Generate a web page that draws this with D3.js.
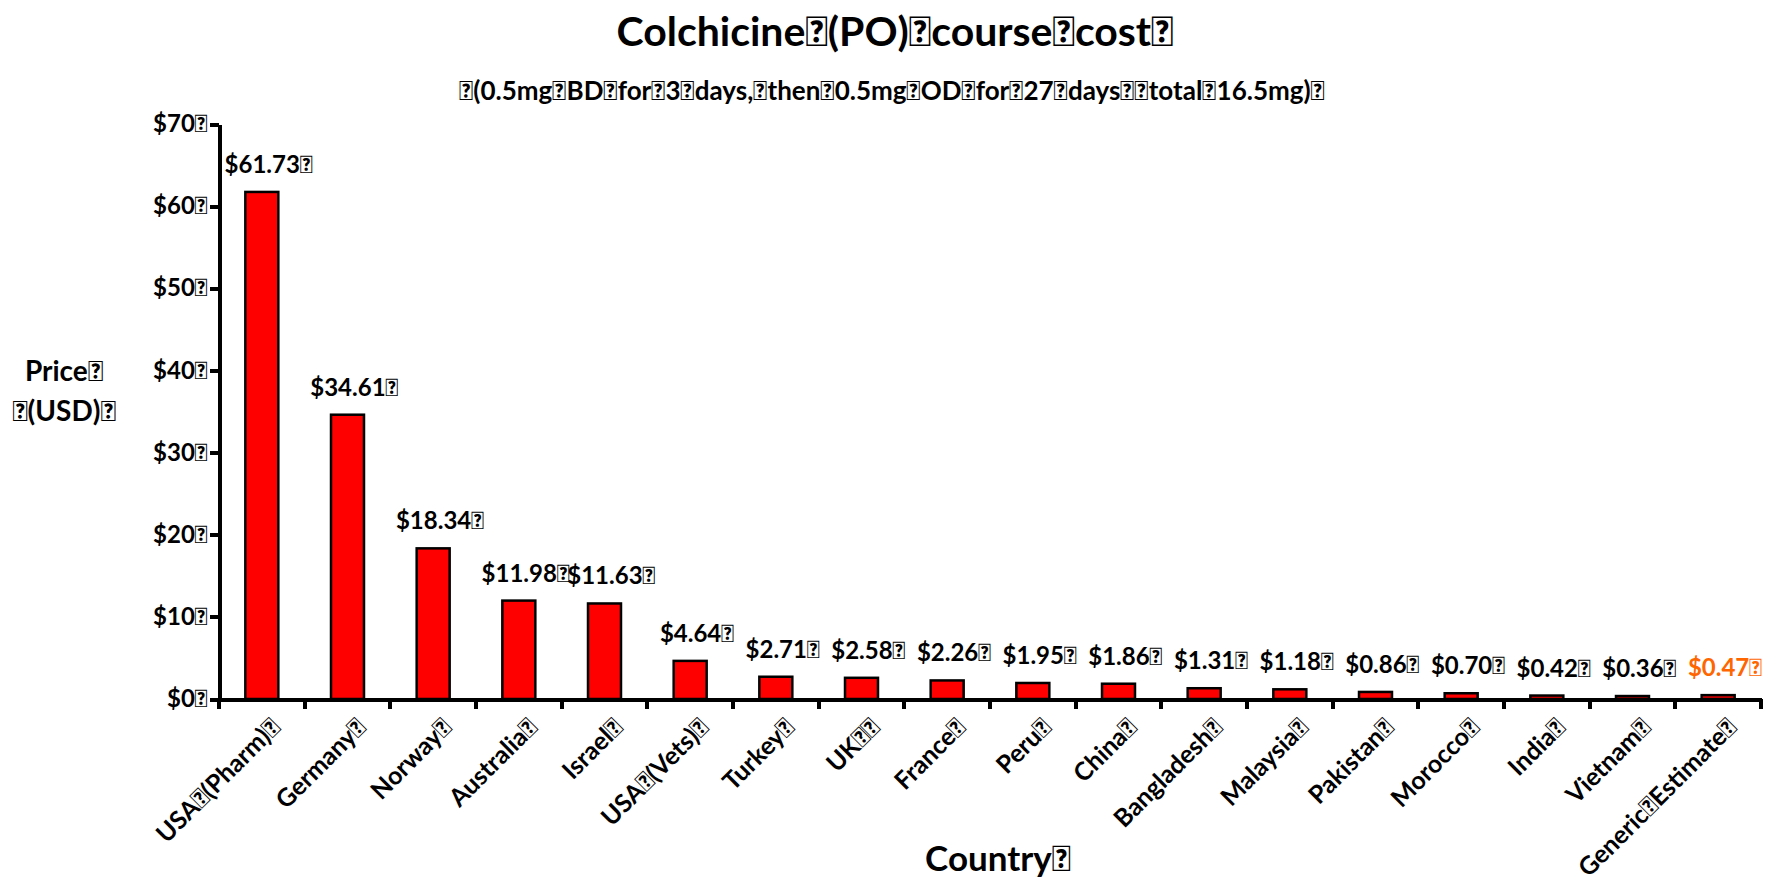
<!DOCTYPE html>
<html lang="en">
<head>
    <meta charset="UTF-8">
    <title>Colchicine (PO) course cost</title>
    <script src="https://d3js.org/d3.v7.min.js"></script>
    <style>
        body { margin: 0; background: #fff; }
        svg, .axis { font-family: Lato, "Open Sans", sans-serif; font-weight: bold; }
        .axis path, .axis line { stroke: #000; stroke-width: 4; shape-rendering: crispEdges; }
        .axis text { font-size: 24px; font-weight: bold; fill: #000; }
        .bar { fill: #ff0000; stroke: #000; stroke-width: 2.5; }
    </style>
</head>
<body>
    <svg width="1775" height="883"></svg>
    <script>
        // box character kept from the source text
        const BOX = "\uF020";

        const countries = ["USA" + BOX + "(Pharm)" + BOX, "Germany" + BOX, "Norway" + BOX, "Australia" + BOX,
            "Israel" + BOX, "USA" + BOX + "(Vets)" + BOX, "Turkey" + BOX, "UK" + BOX + BOX, "France" + BOX,
            "Peru" + BOX, "China" + BOX, "Bangladesh" + BOX, "Malaysia" + BOX, "Pakistan" + BOX,
            "Morocco" + BOX, "India" + BOX, "Vietnam" + BOX, "Generic" + BOX + "Estimate" + BOX];
        const prices = [61.73, 34.61, 18.34, 11.98, 11.63, 4.64, 2.71, 2.58, 2.26, 1.95, 1.86, 1.31, 1.18, 0.86, 0.70, 0.42, 0.36, 0.47];
        const yTicks = [0, 10, 20, 30, 40, 50, 60, 70];

        const svg = d3.select("svg");
        const plotLeft = 219, plotRight = 1761, plotTop = 124, plotBottom = 699;

        const x = d3.scaleBand().domain(countries).range([plotLeft, plotRight]).padding(0);
        const y = d3.scaleLinear().domain([0, 70]).range([plotBottom, plotTop]);
        const barW = x.bandwidth() * 0.385;

        // 標題
        svg.append("text")
            .attr("x", 895).attr("y", 46)
            .attr("text-anchor", "middle")
            .style("font-size", "41px")
            .text("Colchicine" + BOX + "(PO)" + BOX + "course" + BOX + "cost" + BOX);
        svg.append("text")
            .attr("x", 892).attr("y", 100)
            .attr("text-anchor", "middle")
            .style("font-size", "26px")
            .text(BOX + "(0.5mg" + BOX + "BD" + BOX + "for" + BOX + "3" + BOX + "days," + BOX + "then" + BOX + "0.5mg" + BOX + "OD" + BOX + "for" + BOX + "27" + BOX + "days" + BOX + BOX + "total" + BOX + "16.5mg)" + BOX);

        // bars
        svg.append("g")
            .selectAll("rect")
            .data(prices)
            .enter().append("rect")
            .attr("class", "bar")
            .attr("x", (d, i) => x(countries[i]) + (x.bandwidth() - barW) / 2)
            .attr("y", d => y(d))
            .attr("width", barW)
            .attr("height", d => plotBottom - y(d));

        // value labels
        svg.append("g")
            .selectAll("text")
            .data(prices)
            .enter().append("text")
            .attr("x", (d, i) => x(countries[i]) + x.bandwidth() / 2 + 7)
            .attr("y", d => y(d) - 19)
            .attr("text-anchor", "middle")
            .style("font-size", "24px")
            .style("fill", (d, i) => i === prices.length - 1 ? "#ff6600" : "#000")
            .text(d => "$" + d.toFixed(2) + BOX);

        // Y axis
        svg.append("g")
            .attr("class", "axis")
            .attr("transform", "translate(" + plotLeft + ",0)")
            .call(d3.axisLeft(y).tickValues(yTicks).tickSize(9).tickSizeOuter(0).tickPadding(2)
                .tickFormat(d => "$" + d + BOX));

        // X axis
        const xAxis = svg.append("g")
            .attr("class", "axis")
            .attr("transform", "translate(0," + plotBottom + ")")
            .call(d3.axisBottom(x).tickSize(0).tickSizeOuter(0));
        xAxis.selectAll(".tick text")
            .attr("x", 0).attr("y", 0).attr("dy", 0)
            .attr("text-anchor", "end")
            .style("font-size", "25px")
            .attr("transform", "translate(20,30) rotate(-45)");
        xAxis.selectAll(".bound")
            .data(countries.map(c => x(c)).concat([plotRight]))
            .enter().append("line")
            .attr("x1", d => d).attr("x2", d => d)
            .attr("y1", 0).attr("y2", 10);

        // axis titles
        svg.append("text")
            .attr("x", 64).attr("y", 381)
            .attr("text-anchor", "middle")
            .style("font-size", "28px")
            .text("Price" + BOX);
        svg.append("text")
            .attr("x", 64).attr("y", 421)
            .attr("text-anchor", "middle")
            .style("font-size", "28px")
            .text(BOX + "(USD)" + BOX);
        svg.append("text")
            .attr("x", 998).attr("y", 871)
            .attr("text-anchor", "middle")
            .style("font-size", "35px")
            .text("Country" + BOX);
    </script>
</body>
</html>
